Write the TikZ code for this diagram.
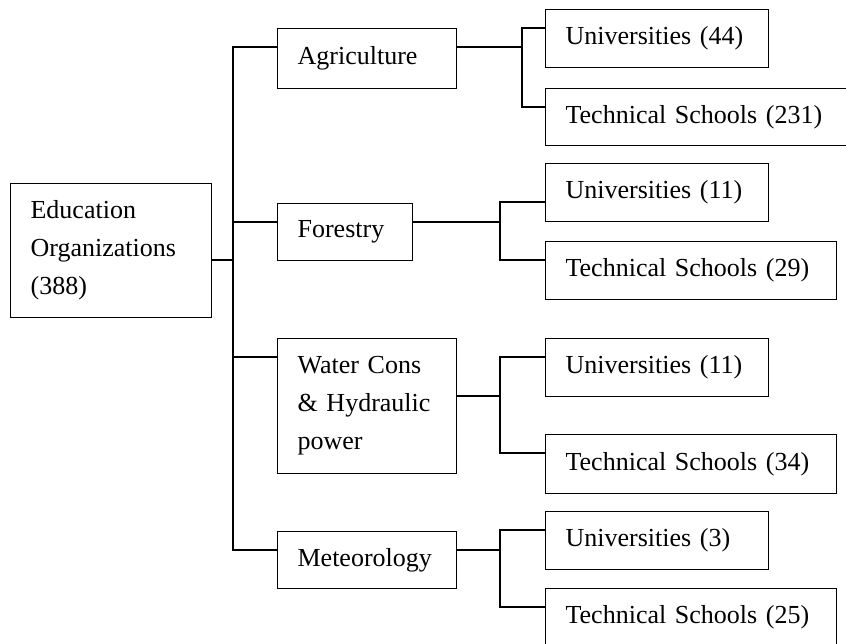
\documentclass[tikz,border=0pt]{standalone}
\usepackage{fontspec}
\setmainfont{Liberation Serif}
\usepackage{xcolor}
\usepackage{tikz}
\usetikzlibrary{positioning}

\tikzset{
  box/.style={draw, line width=1.2pt, anchor=north west, inner xsep=20pt, inner ysep=0pt,
    align=left, font=\fontsize{26}{38}\selectfont},
  link/.style={line width=1.2pt}
}

\begin{document}
\begin{tikzpicture}[x=1pt, y=-1pt]
   % Frame of the picture
   \useasboundingbox (0,0) rectangle (846,643);
   \clip (0,0) rectangle (846,643);

    % Root and branches
    \node[box, minimum width=201pt, minimum height=134pt, text width=161pt] (root) at (10,183) {Education\\Organizations\\(388)};
    \node[box, minimum width=179pt, minimum height=60pt, text width=139pt] (agri) at (277,28) {Agriculture};
    \node[box, minimum width=135pt, minimum height=57pt, text width=95pt] (forest) at (277,203) {Forestry};
    \node[box, minimum width=179pt, minimum height=135pt, text width=139pt] (water) at (277,338) {Water Cons\\\& Hydraulic\\power};
    \node[box, minimum width=179pt, minimum height=57pt, text width=139pt] (meteo) at (277,531) {Meteorology};

    % Leaves
    \node[box, minimum width=223pt, minimum height=58pt, text width=183pt] (uniA) at (545,9) {Universities (44)};
    \node[box, minimum width=305pt, minimum height=57pt, text width=265pt] (techA) at (545,88) {Technical Schools (231)};
    \node[box, minimum width=223pt, minimum height=58pt, text width=183pt] (uniF) at (545,163) {Universities (11)};
    \node[box, minimum width=291pt, minimum height=58pt, text width=251pt] (techF) at (545,241) {Technical Schools (29)};
    \node[box, minimum width=223pt, minimum height=58pt, text width=183pt] (uniW) at (545,338) {Universities (11)};
    \node[box, minimum width=291pt, minimum height=59pt, text width=251pt] (techW) at (545,434) {Technical Schools (34)};
    \node[box, minimum width=223pt, minimum height=58pt, text width=183pt] (uniM) at (545,511) {Universities (3)};
    \node[box, minimum width=291pt, minimum height=58pt, text width=251pt] (techM) at (545,588) {Technical Schools (25)};

    % Junctions
    \coordinate (trunk) at (233,260);
    \coordinate (jA) at (522,47);
    \coordinate (jF) at (500,222);
    \coordinate (jW) at (500,396);
    \coordinate (jM) at (500,550);
    \coordinate (bF) at ([yshift=-19pt]forest.north west);
    \coordinate (bW) at ([yshift=-19pt]water.north west);

    % Trunk
    \draw[link] (root.east |- trunk) -- (trunk);
    \draw[link] ([yshift=-19pt]agri.north west) -| (trunk) |- ([yshift=-19pt]meteo.north west);
    \draw[link] (bF) -- (bF -| trunk);
    \draw[link] (bW) -- (bW -| trunk);

    % Branch to leaves
    \draw[link] (agri.east |- jA) -- (jA);
    \draw[link] ([yshift=-19pt]uniA.north west) -| (jA) |- ([yshift=-19pt]techA.north west);
    \draw[link] (forest.east |- jF) -- (jF);
    \draw[link] ([yshift=-39pt]uniF.north west) -| (jF) |- ([yshift=-19pt]techF.north west);
    \draw[link] (water.east |- jW) -- (jW);
    \draw[link] ([yshift=-19pt]uniW.north west) -| (jW) |- ([yshift=-19pt]techW.north west);
    \draw[link] (meteo.east |- jM) -- (jM);
    \draw[link] ([yshift=-19pt]uniM.north west) -| (jM) |- ([yshift=-19pt]techM.north west);
\end{tikzpicture}
\end{document}
